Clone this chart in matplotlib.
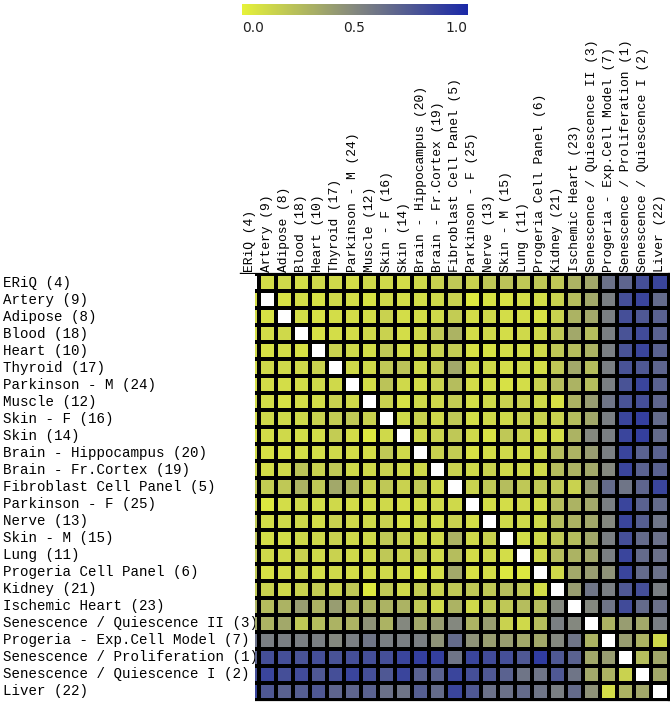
import numpy as np
import matplotlib
matplotlib.use("Agg")
import matplotlib.pyplot as plt
from matplotlib.colors import LinearSegmentedColormap

labels = ["ERiQ (4)", "Artery (9)", "Adipose (8)", "Blood (18)", "Heart (10)",
          "Thyroid (17)", "Parkinson - M (24)", "Muscle (12)", "Skin - F (16)",
          "Skin (14)", "Brain - Hippocampus (20)", "Brain - Fr.Cortex (19)",
          "Fibroblast Cell Panel (5)", "Parkinson - F (25)", "Nerve (13)",
          "Skin - M (15)", "Lung (11)", "Progeria Cell Panel (6)", "Kidney (21)",
          "Ischemic Heart (23)", "Senescence / Quiescence II (3)",
          "Progeria - Exp.Cell Model (7)", "Senescence / Proliferation (1)",
          "Senescence / Quiescence I (2)", "Liver (22)"]

n = np.nan
# distance values (diagonal left blank)
corr = [
    [n, .10, .12, .10, .12, .12, .10, .12, .12, .10, .12, .15, .20, .15, .20, .22, .20, .20, .20, .30, .35, .62, .68, .80, .85],
    [.10, n, .08, .10, .08, .12, .10, .08, .12, .10, .10, .12, .15, .05, .08, .08, .10, .10, .15, .25, .35, .55, .80, .85, .65],
    [.12, .08, n, .10, .08, .10, .10, .10, .15, .10, .10, .12, .18, .10, .12, .10, .10, .08, .15, .30, .35, .55, .80, .75, .70],
    [.10, .10, .12, n, .08, .10, .10, .12, .15, .10, .12, .20, .30, .10, .12, .10, .12, .12, .20, .35, .25, .55, .78, .82, .70],
    [.12, .08, .10, .08, n, .15, .12, .10, .20, .10, .12, .15, .18, .08, .08, .10, .10, .12, .20, .25, .30, .55, .78, .85, .70],
    [.12, .12, .12, .12, .15, n, .12, .12, .20, .22, .12, .18, .35, .12, .12, .10, .12, .10, .20, .35, .25, .55, .78, .75, .68],
    [.10, .10, .10, .10, .12, .12, n, .10, .22, .12, .10, .15, .25, .10, .10, .08, .10, .15, .25, .30, .25, .55, .78, .85, .70],
    [.12, .10, .08, .10, .10, .15, .12, n, .15, .08, .12, .12, .18, .10, .12, .15, .15, .12, .08, .30, .40, .60, .78, .80, .68],
    [.12, .12, .12, .12, .15, .18, .20, .15, n, .12, .15, .12, .20, .10, .12, .12, .15, .15, .15, .25, .35, .55, .85, .88, .65],
    [.10, .10, .12, .10, .10, .18, .10, .05, .12, n, .12, .15, .20, .12, .08, .20, .15, .10, .10, .30, .50, .55, .85, .88, .65],
    [.12, .08, .08, .10, .10, .12, .10, .10, .20, .12, n, .15, .18, .08, .10, .12, .10, .12, .25, .30, .40, .55, .85, .70, .70],
    [.15, .10, .12, .22, .15, .20, .12, .12, .15, .12, .12, n, .15, .12, .15, .12, .12, .12, .25, .30, .35, .50, .85, .70, .70],
    [.20, .18, .20, .30, .20, .35, .28, .15, .20, .15, .20, .12, n, .15, .20, .25, .20, .20, .20, .15, .40, .65, .60, .68, .85],
    [.15, .05, .10, .12, .10, .12, .10, .10, .12, .10, .10, .12, .12, n, .10, .10, .12, .10, .25, .30, .35, .55, .85, .70, .65],
    [.20, .10, .12, .12, .10, .15, .12, .12, .15, .08, .12, .10, .15, .10, n, .12, .12, .12, .25, .30, .35, .50, .85, .72, .60],
    [.22, .10, .10, .12, .12, .15, .12, .12, .20, .15, .12, .12, .30, .12, .15, n, .10, .12, .20, .25, .35, .55, .80, .65, .62],
    [.20, .12, .12, .15, .12, .15, .12, .12, .20, .15, .20, .12, .25, .10, .12, .10, n, .12, .25, .30, .35, .55, .85, .65, .62],
    [.20, .08, .10, .12, .10, .12, .10, .10, .12, .10, .05, .10, .35, .08, .10, .05, .05, n, .12, .35, .40, .45, .85, .65, .62],
    [.20, .15, .12, .15, .18, .15, .20, .05, .20, .12, .18, .15, .20, .20, .20, .25, .20, .10, n, .40, .60, .55, .75, .80, .55],
    [.30, .25, .30, .40, .30, .40, .30, .30, .30, .30, .20, .12, .30, .12, .20, .20, .25, .25, .50, n, .50, .60, .82, .65, .62],
    [.35, .30, .35, .20, .25, .30, .30, .45, .30, .50, .35, .40, .50, .30, .40, .15, .12, .25, .55, .50, n, .30, .40, .35, .55],
    [.62, .55, .55, .55, .55, .50, .55, .60, .55, .55, .55, .45, .65, .45, .40, .40, .35, .35, .50, .60, .30, n, .40, .30, .12],
    [.68, .80, .80, .78, .80, .78, .80, .80, .80, .85, .88, .88, .60, .85, .82, .80, .75, .90, .75, .70, .35, .40, n, .25, .35],
    [.80, .85, .80, .82, .75, .80, .85, .80, .75, .85, .70, .70, .85, .80, .75, .70, .60, .60, .75, .60, .35, .30, .15, n, .35],
    [.85, .75, .70, .72, .75, .68, .68, .70, .62, .60, .72, .65, .85, .75, .62, .62, .65, .60, .55, .65, .45, .10, .30, .35, n],
]
cbar_ticks = ["0.0", "0.5", "1.0"]

W, H = 670, 704
cmap = LinearSegmentedColormap.from_list("yb", ["#e6f23a", "#84887f", "#1b29a8"])
cmap.set_bad("white")

fig = plt.figure(figsize=(W / 100, H / 100), dpi=100)

# heatmap
x0, x1 = 241.5, 668.5
y0, y1 = 274, 700
ax = fig.add_axes([x0 / W, 1 - y1 / H, (x1 - x0) / W, (y1 - y0) / H])
data = np.ma.masked_invalid(np.array(corr))
ax.pcolormesh(np.arange(26), np.arange(26), data, cmap=cmap, vmin=0, vmax=1,
              edgecolors="black", linewidth=1.6)
ax.set_xlim(0, 25)
ax.set_ylim(25, 0)
ax.set_xticks([])
ax.set_yticks([])
for s in ax.spines.values():
    s.set_linewidth(1.6)

for j, lab in enumerate(labels):
    ax.text(j + 0.5, -0.12, lab, rotation=90, ha="center", va="bottom",
            family="Liberation Mono", fontsize=9.4, clip_on=False)

# row label panel sits over the first column
lax = fig.add_axes([0, 0, 255 / W, (H - y0) / H], zorder=5)
lax.set_xlim(0, 255)
lax.set_ylim(y0 + (H - y0), y0)
lax.axis("off")
lax.add_patch(plt.Rectangle((0, y0), 255, H - y0, color="white", zorder=0))
for i, lab in enumerate(labels):
    lax.text(3, y0 + (i + 0.5) * (y1 - y0) / 25, lab, ha="left", va="center",
             family="Liberation Mono", fontsize=10.2, clip_on=True)

# colorbar
cax = fig.add_axes([241.7 / W, 1 - 15 / H, 225.6 / W, 11 / H])
cax.imshow(np.linspace(0, 1, 256)[None, :], aspect="auto", cmap=cmap,
           extent=[0, 1, 0, 1])
cax.axis("off")
fig.text(241.7 / W, 1 - 28 / H, cbar_ticks[0], ha="left", va="center", fontsize=10, color="#222222")
fig.text(354.5 / W, 1 - 28 / H, cbar_ticks[1], ha="center", va="center", fontsize=10, color="#222222")
fig.text(467.3 / W, 1 - 28 / H, cbar_ticks[2], ha="right", va="center", fontsize=10, color="#222222")

fig.savefig("out.png", dpi=100)
